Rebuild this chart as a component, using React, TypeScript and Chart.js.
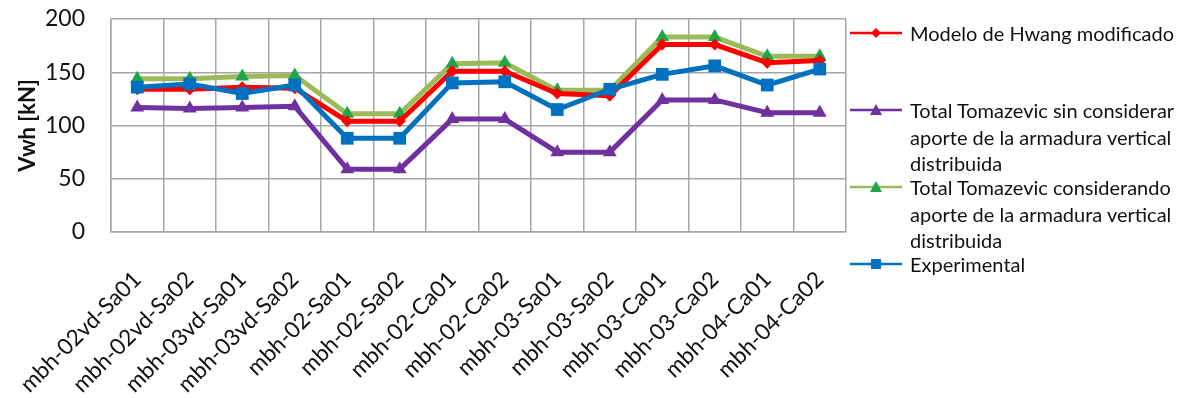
import React, { useEffect, useRef } from "react";
import { Chart, registerables } from "chart.js";

Chart.register(...registerables);

const categories = [
  "mbh-02vd-Sa01",
  "mbh-02vd-Sa02",
  "mbh-03vd-Sa01",
  "mbh-03vd-Sa02",
  "mbh-02-Sa01",
  "mbh-02-Sa02",
  "mbh-02-Ca01",
  "mbh-02-Ca02",
  "mbh-03-Sa01",
  "mbh-03-Sa02",
  "mbh-03-Ca01",
  "mbh-03-Ca02",
  "mbh-04-Ca01",
  "mbh-04-Ca02",
];

const hwangModificado = [134, 134, 136, 135, 104, 104, 151, 151, 130, 128, 176, 176, 159, 161];
const tomazevicSinArmadura = [117, 116, 117, 118, 59, 59, 106, 106, 75, 75, 124, 124, 112, 112];
const tomazevicConArmadura = [144, 144, 146, 147, 111, 111, 158, 159, 133, 133, 183, 183, 165, 165];
const experimental = [136, 139, 130, 138, 88, 88, 140, 141, 115, 134, 148, 156, 138, 153];

const yTicks = [0, 50, 100, 150, 200];

const FONT = "Lato, 'Open Sans', sans-serif";

type LegendEntry = {
  lines: string[];
  line: string;
  marker: string;
  shape: "diamond" | "triangle" | "square";
};

const legendEntries: LegendEntry[] = [
  { lines: ["Modelo de Hwang modificado"], line: "#ff0000", marker: "#ff0000", shape: "diamond" },
  {
    lines: ["Total Tomazevic sin considerar", "aporte de la armadura vertical", "distribuida"],
    line: "#7030a0",
    marker: "#7030a0",
    shape: "triangle",
  },
  {
    lines: ["Total Tomazevic considerando", "aporte de la armadura vertical", "distribuida"],
    line: "#9bbb59",
    marker: "#1fa64a",
    shape: "triangle",
  },
  { lines: ["Experimental"], line: "#0070c0", marker: "#0070c0", shape: "square" },
];

function LegendSwatch({ entry }: { entry: LegendEntry }) {
  let mark: React.ReactNode = null;
  if (entry.shape === "diamond") {
    mark = <polygon points="26,2 31,7 26,12 21,7" fill={entry.marker} />;
  } else if (entry.shape === "triangle") {
    mark = <polygon points="26,1 32,12 20,12" fill={entry.marker} />;
  } else {
    mark = <rect x={21} y={2} width={10} height={10} fill={entry.marker} />;
  }
  return (
    <svg width={52} height={14} style={{ display: "block" }}>
      <line x1={0} y1={7} x2={52} y2={7} stroke={entry.line} strokeWidth={2.5} />
      {mark}
    </svg>
  );
}

export default function App() {
  const canvasRef = useRef<HTMLCanvasElement | null>(null);

  useEffect(() => {
    document.body.style.margin = "0";
    const canvas = canvasRef.current;
    if (!canvas) return;

    const chart = new Chart(canvas, {
      type: "line",
      data: {
        labels: categories,
        datasets: [
          {
            label: "Modelo de Hwang modificado",
            data: hwangModificado,
            borderColor: "#ff0000",
            backgroundColor: "#ff0000",
            borderWidth: 5,
            pointStyle: "rectRot",
            pointRadius: 6,
            pointBorderWidth: 0,
            order: 1,
          },
          {
            label: "Total Tomazevic sin considerar aporte de la armadura vertical distribuida",
            data: tomazevicSinArmadura,
            borderColor: "#7030a0",
            backgroundColor: "#7030a0",
            borderWidth: 5,
            pointStyle: "triangle",
            pointRadius: 8,
            pointBorderWidth: 0,
            order: 2,
          },
          {
            label: "Total Tomazevic considerando aporte de la armadura vertical distribuida",
            data: tomazevicConArmadura,
            borderColor: "#9bbb59",
            backgroundColor: "#1fa64a",
            borderWidth: 5,
            pointStyle: "triangle",
            pointRadius: 8,
            pointBorderWidth: 0,
            order: 3,
          },
          {
            label: "Experimental",
            data: experimental,
            borderColor: "#0070c0",
            backgroundColor: "#0070c0",
            borderWidth: 5,
            pointStyle: "rect",
            pointRadius: 9,
            pointBorderWidth: 0,
            order: 0,
          },
        ],
      },
      options: {
        responsive: false,
        animation: false,
        layout: { padding: { left: 0, top: 19, right: 334, bottom: 0 } },
        plugins: {
          legend: { display: false },
          tooltip: { enabled: false },
        },
        scales: {
          x: {
            offset: true,
            grid: {
              offset: true,
              color: "#a6a6a6",
              lineWidth: 1.5,
              drawTicks: false,
            },
            border: { color: "#a6a6a6", width: 1.5 },
            ticks: {
              autoSkip: false,
              maxRotation: 45,
              minRotation: 45,
              padding: 34,
              color: "#111",
              font: { family: FONT, size: 22.5 },
            },
            afterFit: (scale: any) => {
              scale.height = 166;
              scale.paddingLeft = 0;
              scale.paddingRight = 0;
            },
          },
          y: {
            min: 0,
            max: 200,
            afterBuildTicks: (scale: any) => {
              scale.ticks = yTicks.map((v) => ({ value: v }));
            },
            grid: {
              color: "#a6a6a6",
              lineWidth: 1.5,
              drawTicks: false,
            },
            border: { color: "#a6a6a6", width: 1.5 },
            ticks: {
              padding: 26,
              color: "#111",
              font: { family: FONT, size: 23 },
            },
            title: {
              display: true,
              text: "Vwh [kN]",
              color: "#111",
              font: { family: FONT, size: 22, weight: "bold" },
              padding: { top: 15, bottom: 0 },
            },
            afterFit: (scale: any) => {
              scale.width = 111;
              scale.paddingTop = 0;
              scale.paddingBottom = 0;
            },
          },
        },
      },
    });

    return () => chart.destroy();
  }, []);

  const entryTops = [33, 110, 187, 264];

  return (
    <div style={{ position: "relative", width: 1180, height: 398, background: "#fff" }}>
      <canvas ref={canvasRef} width={1180} height={398} style={{ display: "block" }} />
      {legendEntries.map((entry, i) => (
        <div
          key={entry.lines[0]}
          style={{ position: "absolute", left: 850, top: entryTops[i] - 13 }}
        >
          <div style={{ position: "absolute", left: 0, top: 6 }}>
            <LegendSwatch entry={entry} />
          </div>
          <div
            style={{
              position: "absolute",
              left: 60,
              top: 0,
              whiteSpace: "nowrap",
              fontFamily: FONT,
              fontSize: 20,
              lineHeight: "26.5px",
              color: "#111",
            }}
          >
            {entry.lines.map((l) => (
              <div key={l}>{l}</div>
            ))}
          </div>
        </div>
      ))}
    </div>
  );
}
